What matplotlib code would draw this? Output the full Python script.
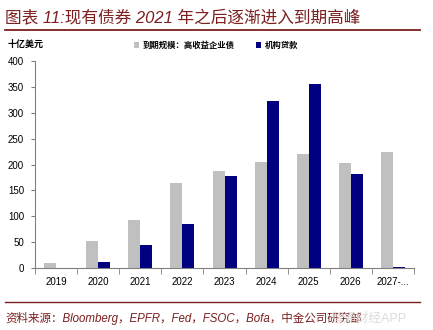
import matplotlib.pyplot as plt
import matplotlib
import numpy as np

matplotlib.rcParams['font.family'] = ['Liberation Sans', 'Noto Sans CJK SC', 'DejaVu Sans']
matplotlib.rcParams['axes.unicode_minus'] = False

years = ['2019', '2020', '2021', '2022', '2023', '2024', '2025', '2026', '2027-...']
hy_bonds = [10, 52, 93, 164, 188, 205, 221, 203, 225]      # 到期规模：高收益企业债
loans = [0, 12, 45, 86, 178, 322, 355, 181, 2]             # 机构贷款

gray = '#C0C0C0'
navy = '#000080'
red = '#7B1F1F'

fig = plt.figure(figsize=(4.33, 3.30), dpi=100)
ax = fig.add_axes([0.081, 0.187, 0.875, 0.629])

x = np.arange(len(years))
w = 0.285
ax.bar(x - w / 2, hy_bonds, width=w, color=gray, label='到期规模：高收益企业债')
ax.bar(x + w / 2, loans, width=w, color=navy, label='机构贷款')

ax.set_xlim(-0.5, len(years) - 0.5)
ax.set_ylim(0, 400)
ax.set_yticks(range(0, 401, 50))
ax.set_xticks(x)
ax.set_xticklabels(years, fontsize=7)
ax.set_xticks(np.arange(-0.5, len(years), 1), minor=True)
ax.tick_params(axis='x', which='major', length=0, pad=6)
ax.tick_params(axis='x', which='minor', length=4, color='#808080', direction='out')
ax.tick_params(axis='y', labelsize=7, length=3, color='#808080', pad=5)
for s in ['top', 'right']:
    ax.spines[s].set_visible(False)
for s in ['left', 'bottom']:
    ax.spines[s].set_color('#808080')
    ax.spines[s].set_linewidth(0.8)

ax.legend(loc='upper left', bbox_to_anchor=(0.24, 1.13), ncol=2, frameon=False,
          prop={'size': 6, 'weight': 'bold'}, handlelength=0.7, handleheight=0.7,
          handletextpad=0.4, columnspacing=2.5)

fig.text(0.018, 0.858, '十亿美元', fontsize=6.5, fontweight='bold')

# 标题与分隔线
fig.text(0.012, 0.945, '图表 11:现有债券 2021 年之后逐渐进入到期高峰',
         fontsize=12, color=red, style='italic', va='center')
fig.add_artist(plt.Line2D([0.012, 0.97], [0.91, 0.91], color=red, lw=1.3))
fig.add_artist(plt.Line2D([0.012, 0.97], [0.085, 0.085], color=red, lw=1.0))
fig.text(0.012, 0.035, '资料来源：Bloomberg，EPFR，Fed，FSOC，Bofa，中金公司研究部',
         fontsize=8.3, color=red, style='italic', va='center')
fig.text(0.765, 0.035, '智通财经APP', fontsize=9, color='#D8D8D8', va='center', alpha=0.9)

plt.savefig('out.png', dpi=100)
